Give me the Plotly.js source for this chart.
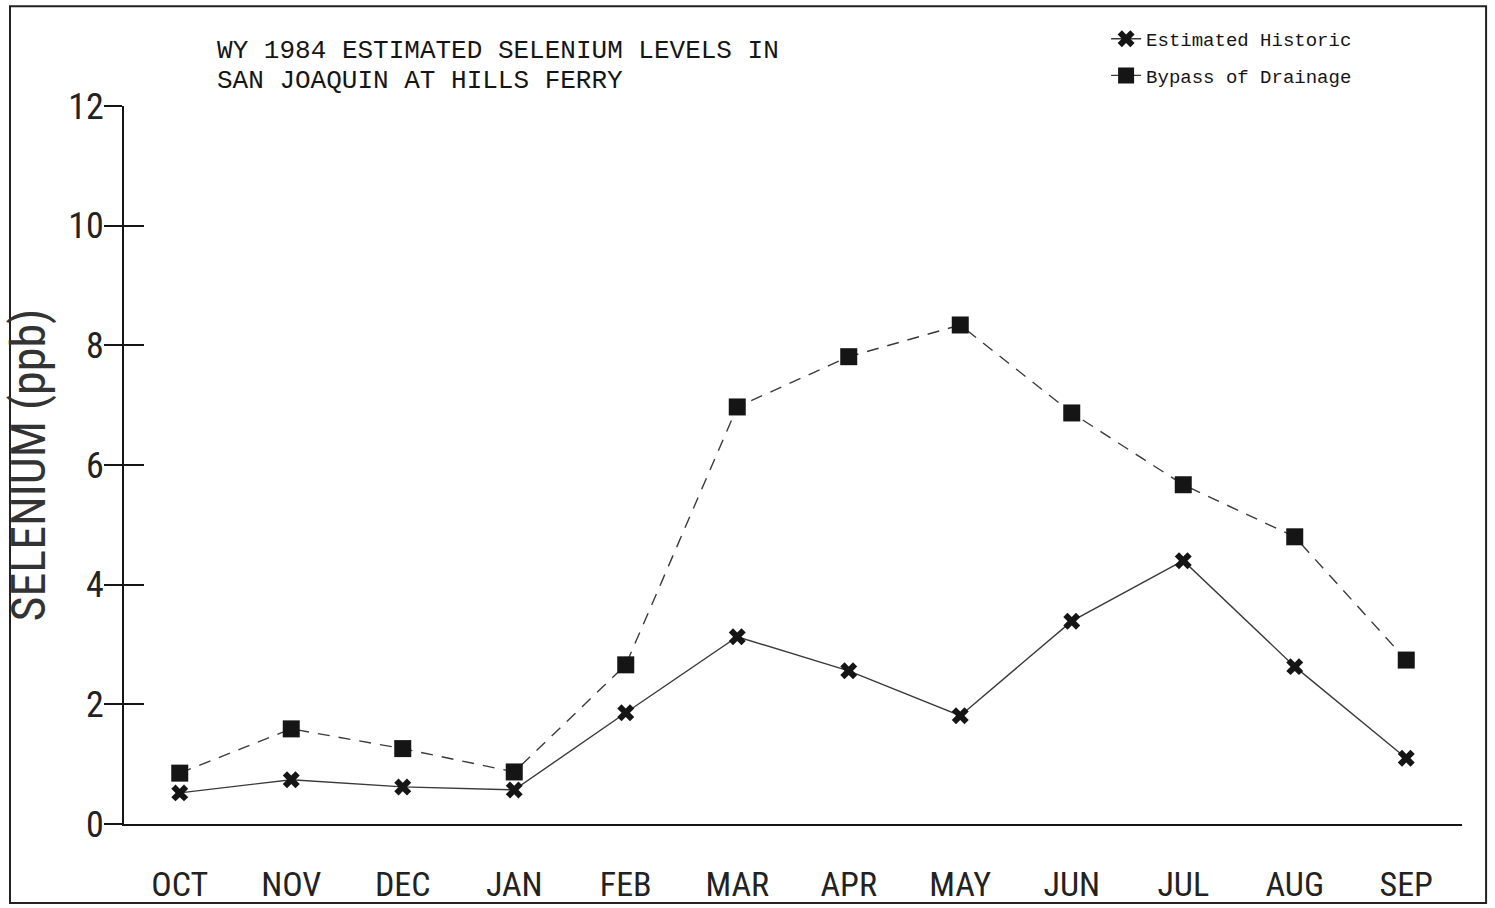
<!DOCTYPE html>
<html>
<head>
<meta charset="utf-8">
<script src="https://cdn.plot.ly/plotly-3.0.1.min.js"></script>
<style>
  html, body { margin: 0; padding: 0; background: #fff; }
  #chart { width: 1495px; height: 908px; }
</style>
</head>
<body>
<div id="chart"></div>
<script>
// ---- data ----
const months = ['OCT','NOV','DEC','JAN','FEB','MAR','APR','MAY','JUN','JUL','AUG','SEP'];
const estimatedHistoric = [0.52, 0.74, 0.62, 0.57, 1.86, 3.13, 2.56, 1.81, 3.39, 4.40, 2.63, 1.10];
const bypassOfDrainage  = [0.85, 1.59, 1.26, 0.87, 2.66, 6.97, 7.81, 8.34, 6.87, 5.67, 4.80, 2.74];
const yTicks = [0, 2, 4, 6, 8, 10, 12];
const yTickLabels = ['0', '2', '4', '6', '8', '10', '12'];
const seriesNames = ['Estimated Historic', 'Bypass of Drainage'];
const titleLines = ['WY 1984 ESTIMATED SELENIUM LEVELS IN', 'SAN JOAQUIN AT HILLS FERRY'];
const yTitle = 'SELENIUM (ppb)';

const ink = '#151515';
const narrow = '"Liberation Sans Narrow", "Roboto Condensed", "Liberation Sans", sans-serif';
const mono = '"Liberation Mono", "DejaVu Sans Mono", monospace';

const traces = [
  {
    type: 'scatter', mode: 'lines+markers', name: seriesNames[0], legendgroup: 'g1',
    x: months, y: estimatedHistoric,
    line: { color: '#3a3a3a', width: 1.4 },
    marker: { symbol: 'x', size: 15, color: ink, line: { width: 0 } }
  },
  {
    type: 'scatter', mode: 'lines+markers', name: seriesNames[1], legendgroup: 'g2',
    x: months, y: bypassOfDrainage,
    line: { color: '#3a3a3a', width: 1.4, dash: '12px,9px' },
    marker: { symbol: 'square', size: 17, color: ink, line: { width: 0 } }
  },
  // helper trace for the inside tick marks on the overlaid axis
  {
    type: 'scatter', mode: 'markers', x: months, y: estimatedHistoric,
    yaxis: 'y2', showlegend: false, hoverinfo: 'skip',
    marker: { opacity: 0, size: 1 }
  }
];

const layout = {
  width: 1495, height: 908,
  paper_bgcolor: '#ffffff', plot_bgcolor: 'rgba(0,0,0,0)',
  margin: { l: 124, r: 33, t: 106, b: 84 },
  showlegend: true,
  title: {
    text: titleLines[0],
    font: { family: mono, size: 26, color: ink },
    xref: 'container', x: 0.1452, xanchor: 'left',
    yref: 'container', y: 0.9564, yanchor: 'top'
  },
  annotations: [
    {
      text: titleLines[1], showarrow: false,
      xref: 'paper', yref: 'paper', x: 0.0680, xanchor: 'left',
      y: 1.0346, yanchor: 'middle',
      font: { family: mono, size: 26, color: ink }
    }
  ],
  legend: {
    x: 0.734, xanchor: 'left', y: 1.120, yanchor: 'top',
    bgcolor: 'rgba(0,0,0,0)', borderwidth: 0,
    font: { family: mono, size: 19, color: ink },
    tracegroupgap: 9
  },
  xaxis: {
    type: 'category', range: [-0.5, 11.5],
    showline: true, linecolor: ink, linewidth: 2,
    showgrid: false, zeroline: false, ticks: '',
    ticklabelstandoff: 29,
    tickfont: { family: narrow, size: 34, color: '#222' }
  },
  yaxis: {
    range: [0, 12], tickvals: yTicks, ticktext: yTickLabels,
    showline: true, linecolor: ink, linewidth: 2,
    showgrid: false, zeroline: false,
    ticks: 'outside', ticklen: 18, tickwidth: 2, tickcolor: ink,
    ticklabelstandoff: -7,
    tickfont: { family: narrow, size: 36, color: '#222' },
    title: { text: yTitle, font: { family: narrow, size: 48, color: '#333' }, standoff: 18 }
  },
  yaxis2: {
    overlaying: 'y', matches: 'y', anchor: 'x', side: 'left',
    range: [0, 12], tickvals: yTicks,
    showticklabels: false, showline: false, showgrid: false, zeroline: false,
    ticks: 'inside', ticklen: 20, tickwidth: 2, tickcolor: ink
  },
  shapes: [
    {
      type: 'rect', xref: 'paper', yref: 'paper',
      x0: -0.0852, x1: 1.018, y0: -0.110, y1: 1.139,
      line: { color: '#222', width: 2 }, fillcolor: 'rgba(0,0,0,0)', layer: 'below'
    }
  ]
};

Plotly.newPlot('chart', traces, layout, { displayModeBar: false, staticPlot: true });
</script>
</body>
</html>
